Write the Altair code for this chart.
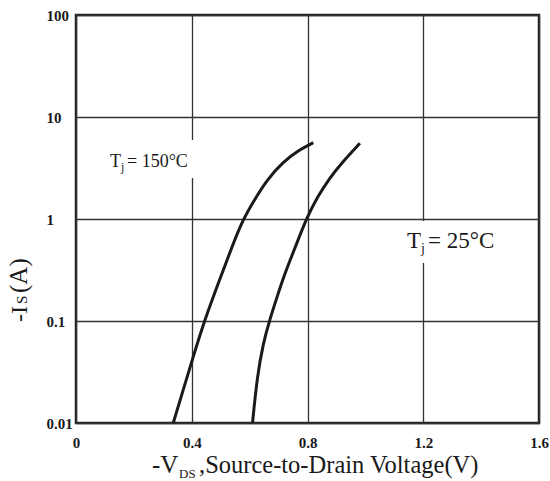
import altair as alt
import pandas as pd

# Source-drain diode forward characteristics, two junction temperatures
v150 = [0.336, 0.401, 0.443, 0.498, 0.539, 0.578, 0.613, 0.659, 0.716, 0.774, 0.820]
i150 = [0.010, 0.041, 0.100, 0.262, 0.535, 1.00, 1.48, 2.41, 3.65, 4.82, 5.60]

v25 = [0.610, 0.626, 0.647, 0.668, 0.699, 0.716, 0.740, 0.763, 0.797, 0.835,
       0.876, 0.917, 0.981]
i25 = [0.010, 0.0284, 0.0604, 0.100, 0.187, 0.262, 0.396, 0.578, 1.02, 1.66,
       2.51, 3.52, 5.52]

x_ticks = [0, 0.4, 0.8, 1.2, 1.6]
y_ticks = [0.01, 0.1, 1, 10, 100]

curves = pd.concat([
    pd.DataFrame({"v": v150, "i": i150, "series": "150"}),
    pd.DataFrame({"v": v25, "i": i25, "series": "25"}),
])

SERIF = "Liberation Serif"
INK = "#1a1a1a"
one = pd.DataFrame({"k": [0]})

lines = alt.Chart(curves).mark_line(
    interpolate="basis", strokeWidth=3, color=INK
).encode(
    x=alt.X("v:Q",
            scale=alt.Scale(domain=[0, 1.6], nice=False, zero=False),
            axis=alt.Axis(values=x_ticks, format="~g", title=None, grid=True,
                          ticks=False, domain=False, labelFont=SERIF,
                          labelFontWeight="bold", labelFontSize=15,
                          labelPadding=12, labelColor=INK, labelFlush=False,
                          labelOverlap=False, gridColor="#333", gridWidth=1.3)),
    y=alt.Y("i:Q",
            scale=alt.Scale(type="log", domain=[0.01, 100], nice=False),
            axis=alt.Axis(values=y_ticks, format="~g", title=None, grid=True,
                          ticks=False, domain=False, labelFont=SERIF,
                          labelFontWeight="bold", labelFontSize=15,
                          labelAlign="left", labelBaseline="middle",
                          labelPadding=30, labelColor=INK, labelFlush=False,
                          labelOverlap=False, gridColor="#333", gridWidth=1.3)),
    detail="series:N",
)


def box(x1, x2, y1, y2):
    return alt.Chart(one).mark_rect(color="white").encode(
        x=alt.value(x1), x2=alt.value(x2), y=alt.value(y1), y2=alt.value(y2))


def label(txt, x, y, size, angle=0):
    return alt.Chart(one).mark_text(
        text=txt, font=SERIF, fontSize=size, color=INK, align="left",
        baseline="alphabetic", angle=angle
    ).encode(x=alt.value(x), y=alt.value(y))


layers = [
    lines,
    box(28, 122, 125, 163),
    box(324, 429, 206, 248),
    # T_j = 150°C
    label("T", 34, 152, 18),
    label("j", 45, 156, 12),
    label("= 150°C", 51, 152, 18),
    # T_j = 25°C
    label("T", 331, 233, 23),
    label("j", 345, 238, 14),
    label("= 25°C", 352, 233, 23),
    # x-axis title
    label("-V", 76, 458, 25),
    label("DS", 103, 463, 13),
    label(",Source-to-Drain Voltage(V)", 123, 458, 24.5),
    # y-axis title (reads bottom to top)
    label("-I", -49, 307, 24, angle=270),
    label("S", -49, 289, 15, angle=270),
    label("(A)", -49, 278, 25, angle=270),
]

chart = alt.layer(*layers).properties(
    width=463, height=408,
    padding={"left": 76, "top": 15, "right": 11, "bottom": 58},
    autosize=alt.AutoSizeParams(type="none"),
    background="white",
).configure_view(stroke="#222", strokeWidth=2.5)

chart.save("out.html", embed_options={"renderer": "svg", "actions": False})
